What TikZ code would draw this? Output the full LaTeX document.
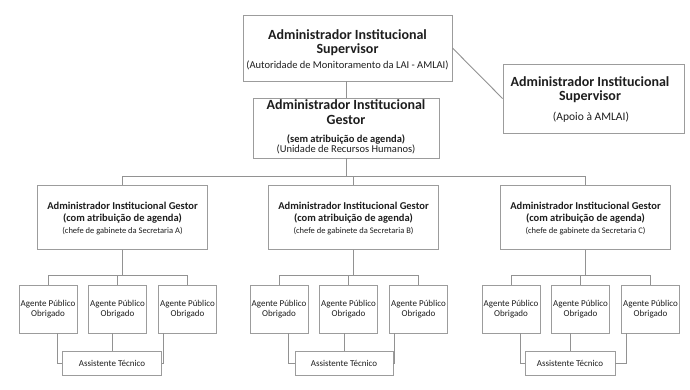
\documentclass[tikz,border=0pt]{standalone}
\usepackage{fontspec}
\setmainfont{Carlito}
\definecolor{boxgray}{HTML}{9C9C9C}
\definecolor{linegray}{HTML}{929292}
\definecolor{txt}{HTML}{1E1E1E}
\tikzset{
  box/.style={draw=boxgray, line width=0.9pt, fill=white, inner sep=0pt},
  conn/.style={draw=linegray, line width=0.9pt},
  lbl/.style={anchor=base, inner sep=0pt, text=txt},
  fbig/.style={font=\fontsize{14}{16}\selectfont\bfseries},
  fsub/.style={font=\fontsize{10.5}{12}\selectfont},
  fapo/.style={font=\fontsize{11.5}{13}\selectfont},
  fsubb/.style={font=\fontsize{10.5}{12}\selectfont\bfseries},
  fmid/.style={font=\fontsize{10.5}{12}\selectfont\bfseries},
  fsmall/.style={font=\fontsize{8.5}{10}\selectfont},
  fag/.style={font=\fontsize{9}{10}\selectfont},
}
\begin{document}
\begin{tikzpicture}[x=1pt,y=-1pt]
\useasboundingbox (0,0) rectangle (690,389);
\fill[white] (0,0) rectangle (690,389);
\coordinate (busT) at (0,176);
\coordinate (busG) at (0,275);

% top supervisor
\node[box, minimum width=209pt, minimum height=66pt] (T) at (347.5,48) {};
\node[lbl, fbig] (T1) at (347.5,39) {Administrador Institucional};
\node[lbl, fbig] (T2) at (347.5,53) {Supervisor};
\node[lbl, fsub] (T3) at (347.5,68) {(Autoridade de Monitoramento da LAI - AMLAI)};

% apoio
\node[box, minimum width=181pt, minimum height=69pt] (P) at (593.5,98.5) {};
\node[lbl, fbig] (P1) at (590,86) {Administrador Institucional};
\node[lbl, fbig] (P2) at (590,100) {Supervisor};
\node[lbl, fapo] (P3) at (591,120) {(Apoio à AMLAI)};

% gestor
\node[box, minimum width=186pt, minimum height=60pt] (G) at (346,128) {};
\node[lbl, fbig] (G1) at (346,109) {Administrador Institucional};
\node[lbl, fbig] (G2) at (346,124) {Gestor};
\node[lbl, fsubb] (G3) at (346,142) {(sem atribuição de agenda)};
\node[lbl, fsub] (G4) at (346,152) {(Unidade de Recursos Humanos)};

\draw[conn] (G.north) -- (G.north |- T.south);
\draw[conn] (T.east) -- (P.west);

\foreach \g/\cx/\ao/\aw in {A/122/-10/99, B/353/-9/98, C/585/-15/90} {
  \node[box, minimum width=170pt, minimum height=64pt] (\g) at (\cx,217.5) {};
  \node[lbl, fmid] (\g-t1) at (\cx+0.5,209) {Administrador Institucional Gestor};
  \node[lbl, fmid] (\g-t2) at (\cx+0.5,221) {(com atribuição de agenda)};
  \node[lbl, fsmall] (\g-t3) at (\cx+0.5,233) {(chefe de gabinete da Secretaria \g)};
  \foreach \i/\dx in {1/-74, 2/-4.5, 3/65.5} {
    \node[box, minimum width=58pt, minimum height=48pt] (\g\i) at (\cx+\dx,309) {};
    \node[lbl, fag] (\g\i-a) at (\cx+\dx,306) {Agente Público};
    \node[lbl, fag] (\g\i-b) at (\cx+\dx,316) {Obrigado};
  }
  \node[box, minimum width=\aw pt, minimum height=24pt] (\g-as) at (\cx+\ao,363) {};
  \node[lbl, fag] (\g-ast) at (\cx+\ao,366) {Assistente Técnico};
  % connectors
  \draw[conn] (\g.south) -- (\g.south |- busG);
  \draw[conn] (\g1.north) -- (\g1.north |- busG) -- (\g3.north |- busG) -- (\g3.north);
  \draw[conn] (\g2.north) -- (\g2.north |- busG);
  \draw[conn] ([xshift=9pt]\g1.south) |- (\g-as.west);
  \draw[conn] (\g-as.north) -- (\g-as.north |- \g2.south);
  \draw[conn] ([xshift=5pt]\g3.south west) |- (\g-as.east);
}

\draw[conn] (G.south) -- (G.south |- busT);
\draw[conn] (A.north) -- (A.north |- busT) -- (C.north |- busT) -- (C.north);
\draw[conn] (B.north) -- (B.north |- busT);
\end{tikzpicture}
\end{document}
